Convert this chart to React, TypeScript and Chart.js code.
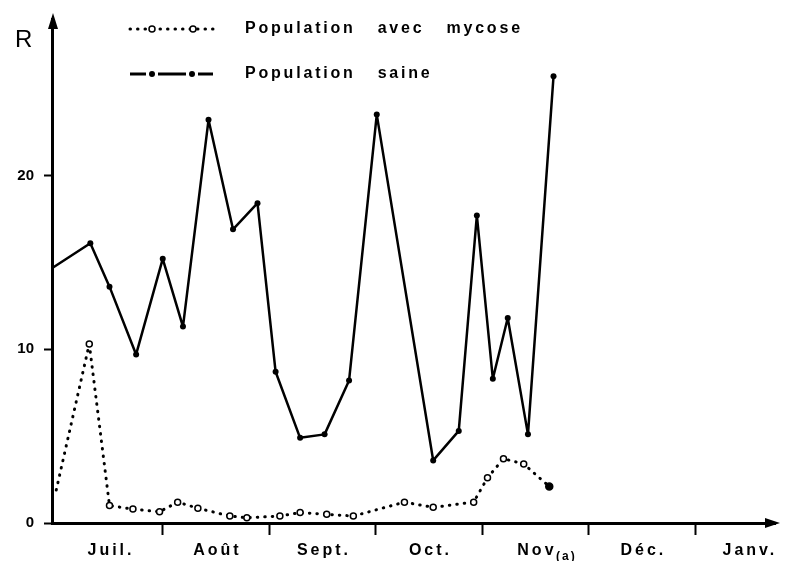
import React, { useEffect, useRef } from 'react';
import { Chart, registerables } from 'chart.js';

Chart.register(...registerables);

// x values are in months counted from 1 July (0 = 1 July, 1 = 1 August, ...)
const monthLabels = ['Juil.', 'Août', 'Sept.', 'Oct.', 'Nov', 'Déc.', 'Janv.'];
const novSubscript = '(a)';
const monthBoundaries = [1, 2, 3, 4, 5, 6];
const yTicks = [0, 10, 20];
const yAxisTitle = 'R';
const legendLabels = ['Population avec mycose', 'Population saine'];

const healthyX = [-0.03, 0.32, 0.5, 0.75, 1.0, 1.19, 1.43, 1.66, 1.89, 2.06, 2.29, 2.52, 2.75, 3.01, 3.54, 3.78, 3.95, 4.1, 4.24, 4.43, 4.67];
const healthyY = [14.7, 16.1, 13.6, 9.7, 15.2, 11.3, 23.2, 16.9, 18.4, 8.7, 4.9, 5.1, 8.2, 23.5, 3.6, 5.3, 17.7, 8.3, 11.8, 5.1, 25.7];

const mycoseX = [0.0, 0.31, 0.5, 0.72, 0.97, 1.14, 1.33, 1.63, 1.79, 2.1, 2.29, 2.54, 2.79, 3.27, 3.54, 3.92, 4.05, 4.2, 4.39, 4.63];
const mycoseY = [1.9, 10.3, 1.0, 0.8, 0.65, 1.2, 0.85, 0.4, 0.3, 0.4, 0.6, 0.5, 0.4, 1.2, 0.9, 1.2, 2.6, 3.7, 3.4, 2.1];

const FONT = '"Liberation Sans", Arial, sans-serif';

const decorPlugin = {
  id: 'decor',
  afterDraw(chart: any) {
    const { ctx, chartArea, scales } = chart;
    const xs = scales.x;
    ctx.save();
    ctx.fillStyle = '#000';
    ctx.strokeStyle = '#000';

    // arrow heads
    ctx.beginPath();
    ctx.moveTo(chartArea.left + 1, chartArea.top - 6);
    ctx.lineTo(chartArea.left - 4, chartArea.top + 10);
    ctx.lineTo(chartArea.left + 6, chartArea.top + 10);
    ctx.closePath();
    ctx.fill();
    ctx.beginPath();
    ctx.moveTo(chartArea.right + 5, chartArea.bottom);
    ctx.lineTo(chartArea.right - 10, chartArea.bottom - 5);
    ctx.lineTo(chartArea.right - 10, chartArea.bottom + 5);
    ctx.closePath();
    ctx.fill();

    // axis title R
    ctx.font = `24px ${FONT}`;
    ctx.textAlign = 'left';
    ctx.textBaseline = 'alphabetic';
    ctx.fillText(yAxisTitle, 15, 47);

    // month labels
    ctx.font = `bold 16px ${FONT}`;
    (ctx as any).letterSpacing = '3px';
    monthLabels.forEach((lab, i) => {
      const cx = xs.getPixelForValue(i + 0.5);
      const w = ctx.measureText(lab).width;
      ctx.textAlign = 'left';
      ctx.fillText(lab, cx - w / 2 + 1.5, 555);
      if (lab === 'Nov') {
        ctx.font = `bold 12px ${FONT}`;
        (ctx as any).letterSpacing = '2px';
        ctx.fillText(novSubscript, cx + w / 2 + 1, 560);
        ctx.font = `bold 16px ${FONT}`;
        (ctx as any).letterSpacing = '3px';
      }
    });

    // legend
    const sx0 = 130, sx1 = 213;
    const rows = [29, 74];
    // row 1: dotted with open circles
    ctx.lineWidth = 3;
    ctx.lineCap = 'round';
    ctx.setLineDash([0.5, 7]);
    ctx.beginPath();
    ctx.moveTo(sx0, rows[0]);
    ctx.lineTo(sx1, rows[0]);
    ctx.stroke();
    ctx.setLineDash([]);
    [152, 193].forEach((px) => {
      ctx.beginPath();
      ctx.arc(px, rows[0], 3, 0, Math.PI * 2);
      ctx.fillStyle = '#fff';
      ctx.fill();
      ctx.lineWidth = 1.5;
      ctx.stroke();
    });
    ctx.fillStyle = '#000';
    // row 2: solid segments with dots
    ctx.lineWidth = 3;
    ctx.lineCap = 'butt';
    [[130, 146], [158, 186], [198, 213]].forEach(([a, b]) => {
      ctx.beginPath();
      ctx.moveTo(a, rows[1]);
      ctx.lineTo(b, rows[1]);
      ctx.stroke();
    });
    [152, 192].forEach((px) => {
      ctx.beginPath();
      ctx.arc(px, rows[1], 3, 0, Math.PI * 2);
      ctx.fill();
    });
    // legend text
    ctx.font = `bold 16px ${FONT}`;
    (ctx as any).letterSpacing = '2.8px';
    ctx.textAlign = 'left';
    legendLabels.forEach((lab, r) => {
      let x = 245;
      lab.split(' ').forEach((word) => {
        ctx.fillText(word, x, rows[r] + 4);
        x += ctx.measureText(word).width + 22;
      });
    });
    (ctx as any).letterSpacing = '0px';
    ctx.restore();
  },
};

export default function App() {
  const ref = useRef<HTMLCanvasElement>(null);
  useEffect(() => {
    document.body.style.margin = '0';
    const canvas = ref.current!;
    const chart = new Chart(canvas, {
      type: 'line',
      data: {
        datasets: [
          {
            label: legendLabels[0],
            data: mycoseX.map((x, i) => ({ x, y: mycoseY[i] })),
            borderColor: '#000',
            borderWidth: 3,
            borderDash: [0.5, 7],
            borderCapStyle: 'round',
            borderJoinStyle: 'round',
            pointRadius: (c: any) => (c.dataIndex === 0 ? 0 : c.dataIndex === mycoseY.length - 1 ? 3.5 : 3),
            pointBackgroundColor: (c: any) => (c.dataIndex === mycoseY.length - 1 ? '#000' : '#fff'),
            pointBorderColor: '#000',
            pointBorderWidth: 1.5,
            tension: 0,
            clip: false,
          } as any,
          {
            label: legendLabels[1],
            data: healthyX.map((x, i) => ({ x, y: healthyY[i] })),
            borderColor: '#000',
            borderWidth: 2.5,
            borderJoinStyle: 'round',
            pointRadius: (c: any) => (c.dataIndex === 0 ? 0 : 3),
            pointBackgroundColor: '#000',
            pointBorderWidth: 0,
            tension: 0,
            clip: false,
          } as any,
        ],
      },
      options: {
        animation: false,
        responsive: false,
        devicePixelRatio: 1,
        layout: { padding: { top: 19, right: 10, left: 0, bottom: 0 } },
        plugins: { legend: { display: false }, tooltip: { enabled: false } },
        scales: {
          x: {
            type: 'linear',
            min: -0.04,
            max: 6.75,
            afterBuildTicks: (s: any) => {
              s.ticks = monthBoundaries.map((v) => ({ value: v }));
            },
            afterFit: (s: any) => {
              s.height = 38;
            },
            ticks: { callback: () => '', color: '#000' },
            grid: { drawOnChartArea: false, drawTicks: true, tickLength: 12, tickWidth: 2, tickColor: '#000', color: '#000' },
            border: { display: true, color: '#000', width: 3 },
          },
          y: {
            type: 'linear',
            min: 0,
            max: 29,
            afterBuildTicks: (s: any) => {
              s.ticks = yTicks.map((v) => ({ value: v }));
            },
            afterFit: (s: any) => {
              s.width = 52;
            },
            ticks: { color: '#000', padding: 10, font: { family: FONT, weight: 'bold', size: 15 } },
            grid: { drawOnChartArea: false, drawTicks: true, tickLength: 8, tickWidth: 2, tickColor: '#000', color: '#000' },
            border: { display: true, color: '#000', width: 3 },
          },
        },
      } as any,
      plugins: [decorPlugin],
    });
    return () => chart.destroy();
  }, []);
  return (
    <div style={{ width: 785, height: 561, background: '#fff' }}>
      <canvas ref={ref} width={785} height={561} style={{ width: 785, height: 561, display: 'block' }} />
    </div>
  );
}
